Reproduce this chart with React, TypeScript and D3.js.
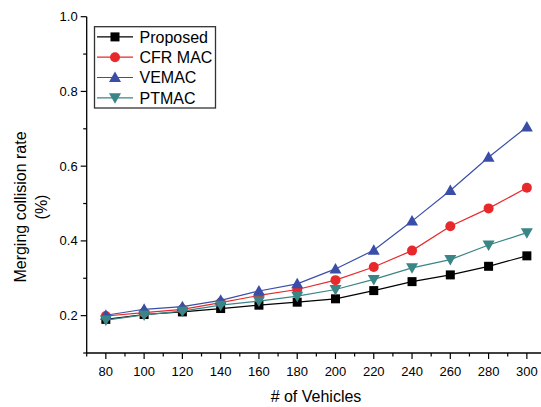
import React from "react";
import * as d3 from "d3";

// # of vehicles
const vehicles = [80, 100, 120, 140, 160, 180, 200, 220, 240, 260, 280, 300];

// merging collision rate
const proposed = [0.19, 0.203, 0.21, 0.219, 0.228, 0.236, 0.245, 0.267, 0.291, 0.309, 0.332, 0.36];
const cfrMac = [0.199, 0.208, 0.217, 0.235, 0.254, 0.27, 0.295, 0.33, 0.374, 0.439, 0.487, 0.542];
const vemac = [0.201, 0.217, 0.224, 0.241, 0.266, 0.285, 0.325, 0.375, 0.453, 0.535, 0.624, 0.705];
const ptmac = [0.188, 0.202, 0.212, 0.228, 0.239, 0.252, 0.27, 0.297, 0.328, 0.35, 0.389, 0.422];

const yMajor = [0.2, 0.4, 0.6, 0.8, 1.0];
const yMinor = [0.1, 0.3, 0.5, 0.7, 0.9];
const xMinor = [70, 90, 110, 130, 150, 170, 190, 210, 230, 250, 270, 290, 310];

const series = [
  { name: "Proposed", values: proposed, color: "#000000", shape: "square" },
  { name: "CFR MAC", values: cfrMac, color: "#e8292b", shape: "circle" },
  { name: "VEMAC", values: vemac, color: "#3a4ea8", shape: "up" },
  { name: "PTMAC", values: ptmac, color: "#3a8585", shape: "down" },
];

const W = 541;
const H = 407;
const font = "'Liberation Sans', Arial, sans-serif";

const x = d3.scaleLinear().domain([70, 310]).range([86.7, 546]);
const y = d3.scaleLinear().domain([0.1, 1.0]).range([353, 16.7]);

const Marker = ({ shape, cx, cy, color }: any) => {
  if (shape === "square")
    return <rect x={cx - 4.5} y={cy - 4.5} width={9} height={9} fill={color} />;
  if (shape === "circle") return <circle cx={cx} cy={cy} r={5} fill={color} />;
  if (shape === "up")
    return (
      <path
        d={`M${cx},${cy - 6} L${cx + 6},${cy + 4.5} L${cx - 6},${cy + 4.5} Z`}
        fill={color}
      />
    );
  return (
    <path
      d={`M${cx},${cy + 6} L${cx + 6},${cy - 4.5} L${cx - 6},${cy - 4.5} Z`}
      fill={color}
    />
  );
};

const App = () => {
  const line = d3
    .line<number>()
    .x((_, i) => x(vehicles[i]))
    .y((v) => y(v));

  const x0 = x(70);
  const y0 = y(0.1);

  return (
    <div style={{ position: "absolute", left: 0, top: 0 }}>
      <svg width={W} height={H} style={{ display: "block", background: "#fff" }}>
        {/* y axis */}
        <line x1={x0} x2={x0} y1={y(1.0)} y2={y0} stroke="#000" strokeWidth={1.3} />
        {yMajor.map((t) => (
          <g key={"ym" + t}>
            <line x1={x0 - 6} x2={x0} y1={y(t)} y2={y(t)} stroke="#000" strokeWidth={1.2} />
            <text
              x={x0 - 9}
              y={y(t)}
              dy="0.35em"
              textAnchor="end"
              fontFamily={font}
              fontSize={13}
            >
              {t.toFixed(1)}
            </text>
          </g>
        ))}
        {yMinor.map((t) => (
          <line key={"yn" + t} x1={x0 - 3.5} x2={x0} y1={y(t)} y2={y(t)} stroke="#000" strokeWidth={1.2} />
        ))}

        {/* x axis */}
        <line x1={x0} x2={W} y1={y0} y2={y0} stroke="#000" strokeWidth={1.3} />
        {vehicles.map((t) => (
          <g key={"xm" + t}>
            <line x1={x(t)} x2={x(t)} y1={y0} y2={y0 + 6} stroke="#000" strokeWidth={1.2} />
            <text x={x(t)} y={375.5} textAnchor="middle" fontFamily={font} fontSize={13}>
              {t}
            </text>
          </g>
        ))}
        {xMinor.map((t) => (
          <line key={"xn" + t} x1={x(t)} x2={x(t)} y1={y0} y2={y0 + 3.5} stroke="#000" strokeWidth={1.2} />
        ))}

        {/* axis titles */}
        <text x={316} y={401.5} textAnchor="middle" fontFamily={font} fontSize={16}>
          # of Vehicles
        </text>
        <text
          transform="translate(26,207) rotate(-90)"
          textAnchor="middle"
          fontFamily={font}
          fontSize={16}
        >
          Merging collision rate
        </text>
        <text
          transform="translate(47,207) rotate(-90)"
          textAnchor="middle"
          fontFamily={font}
          fontSize={16}
        >
          (%)
        </text>

        {/* series */}
        {series.map((s) => (
          <g key={s.name}>
            <path d={line(s.values) || ""} fill="none" stroke={s.color} strokeWidth={1.2} />
            {s.values.map((v, i) => (
              <Marker key={i} shape={s.shape} cx={x(vehicles[i])} cy={y(v)} color={s.color} />
            ))}
          </g>
        ))}

        {/* legend */}
        <rect x={94.5} y={26.7} width={121} height={81.3} fill="#fff" stroke="#333" strokeWidth={1.3} />
        {series.map((s, i) => {
          const ly = 36.9 + i * 20.3;
          return (
            <g key={"lg" + s.name}>
              <line x1={97} x2={133} y1={ly} y2={ly} stroke={s.color} strokeWidth={1.2} />
              <Marker shape={s.shape} cx={115} cy={ly} color={s.color} />
              <text x={139.5} y={ly} dy="0.36em" fontFamily={font} fontSize={16}>
                {s.name}
              </text>
            </g>
          );
        })}
      </svg>
    </div>
  );
};

export default App;
